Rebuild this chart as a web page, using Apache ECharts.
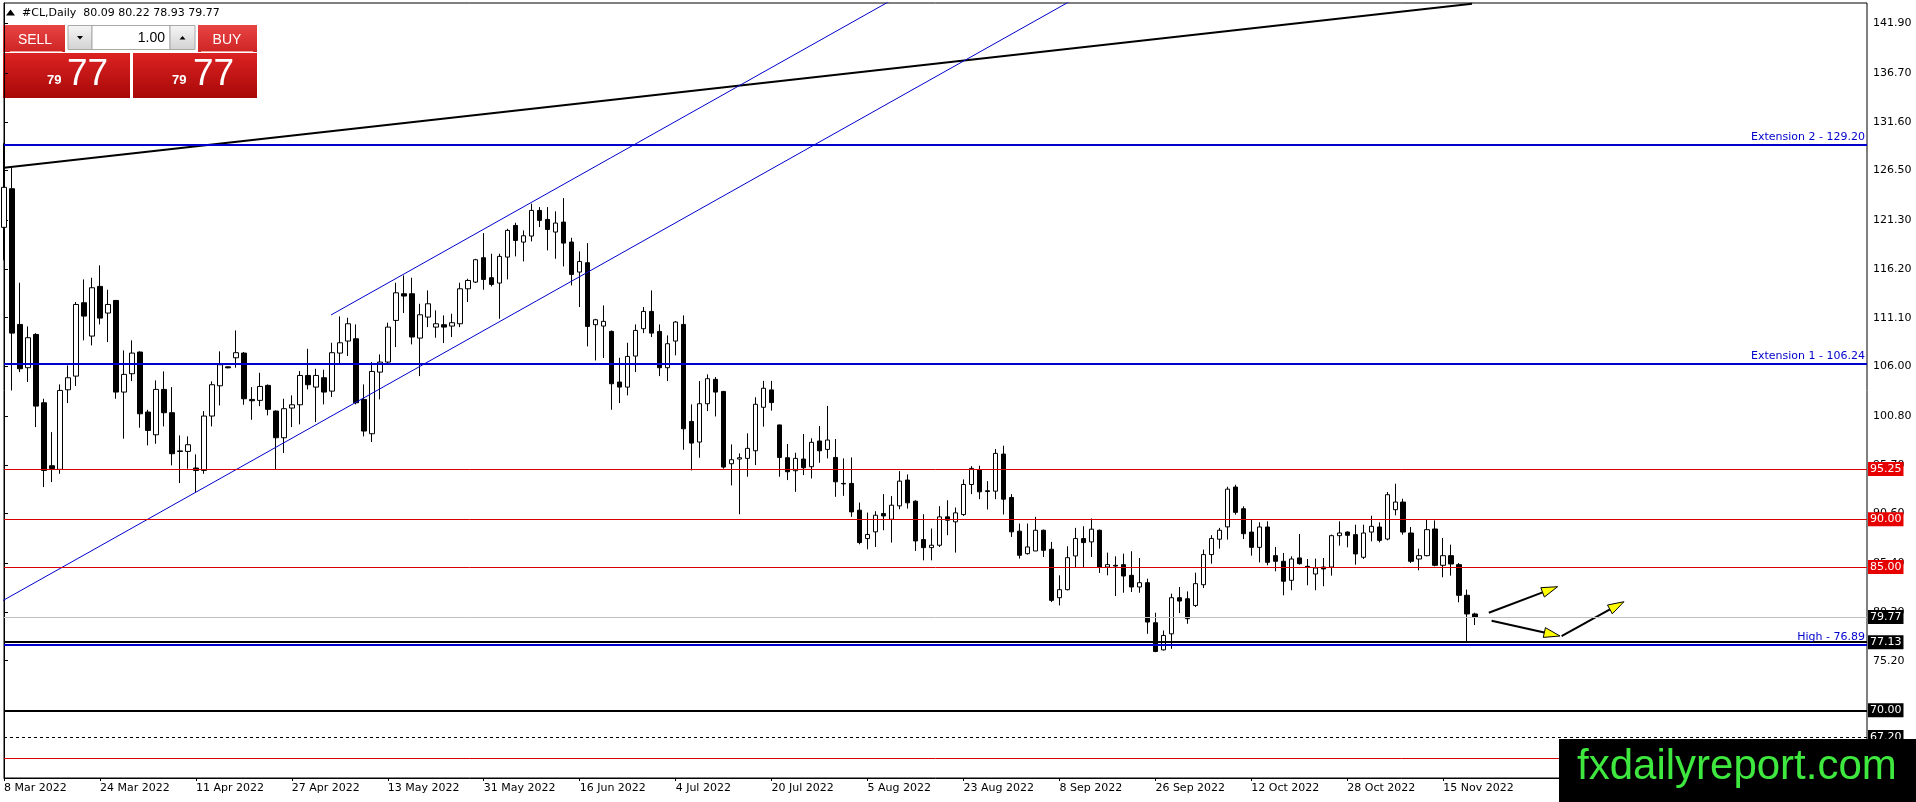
<!DOCTYPE html>
<html>
<head>
<meta charset="utf-8">
<script src="https://cdn.jsdelivr.net/npm/echarts@6.0.0/dist/echarts.min.js"></script>
<style>
html, body { margin: 0; padding: 0; background: #fff; }
#main { width: 1916px; height: 802px; }
</style>
</head>
<body>
<div id="main"></div>
<script>
// daily bars from 8 Mar 2022
var opens = [
  120.55,124.59,110.39,105.86,109.34,102.19,95.6,95.22,103.55,104.98,
  112.66,109.17,114.37,111.58,112.9,103.31,105.23,107.5,101.22,98.84,
  103.59,101.15,97.15,97.1,95.36,95.11,100.8,103.97,105.95,106.9,
  107.39,102.54,102.44,104.01,101.32,98.53,101.64,101.98,105.05,103.83,
  104.81,103.41,107.39,108.65,108.89,102.54,98.95,105.4,106.45,110.81,
  113.6,113.6,108.96,111.16,110.11,110.36,110.22,110.46,114.12,114.82,
  117.37,115.28,114.72,117.44,120.75,119.01,119.64,122.32,121.38,120.06,
  121.1,119.01,115.87,116.85,110.36,110.22,109.66,104.36,103.83,107.08,
  109.94,111.75,109.66,105.86,108.65,110.39,100.24,98.08,102.09,104.64,
  103.38,95.81,96.3,96.37,97.17,101.72,103.54,99.87,96.44,95.08,
  96.3,95.5,98.19,97.31,96.47,93.75,93.75,90.95,87.98,88.68,
  90.6,90.0,91.4,94.1,91.89,87.87,87.03,87.28,90.25,89.73,
  90.49,93.64,95.15,92.98,92.94,96.82,92.28,88.75,86.4,86.68,
  88.85,86.86,81.79,82.63,86.16,87.98,87.63,88.85,85.0,85.18,
  85.25,84.13,82.91,83.36,79.17,76.33,78.01,81.79,81.68,80.98,
  83.15,86.3,87.91,89.2,93.37,91.1,88.66,87.06,89.19,86.19,
  85.6,83.61,85.95,85.07,84.27,85.0,85.0,88.28,88.66,88.39,
  86.02,88.66,89.19,87.93,91.0,91.8,88.56,85.84,86.19,88.98,
  85.18,86.19,85.25,82.04,80.09
];
var highs = [
  129.35,126.79,114.75,110.18,109.48,102.61,99.12,104.11,106.1,112.73,
  115.1,115.28,116.57,114.02,112.95,107.67,108.72,107.57,101.46,104.53,
  105.47,103.83,98.77,98.67,96.79,101.32,104.43,107.57,106.0,109.76,
  107.5,103.83,105.33,104.11,101.39,102.61,102.96,105.51,107.84,105.75,
  105.65,108.47,111.23,111.09,110.39,104.11,106.45,107.25,110.57,114.75,
  115.52,115.28,112.55,113.95,111.86,111.33,111.51,114.75,115.17,117.26,
  119.95,117.79,117.79,120.4,121.03,120.23,123.02,122.67,122.67,122.22,
  123.61,119.46,118.03,118.9,110.98,112.38,109.76,106.9,108.47,110.39,
  112.21,113.95,110.39,109.24,110.74,111.33,102.02,104.46,105.16,104.88,
  103.41,97.83,96.89,98.99,102.77,104.48,104.48,99.9,97.87,96.96,
  98.92,98.47,99.76,101.86,98.4,96.37,96.47,91.75,90.7,90.84,
  92.63,92.42,95.04,94.69,91.99,90.53,89.03,91.37,91.99,91.23,
  94.17,95.56,95.6,93.99,97.35,97.7,92.63,89.55,89.55,90.25,
  88.92,87.63,84.13,87.17,89.1,89.27,90.08,88.92,86.51,86.12,
  86.4,86.65,85.95,83.78,80.22,78.36,82.21,82.91,82.45,84.41,
  86.82,88.33,89.1,93.4,93.61,91.35,89.95,89.68,89.78,87.1,
  86.47,86.12,88.46,85.84,85.88,85.95,88.39,89.78,88.73,89.43,
  89.43,90.37,89.68,92.85,93.72,92.15,89.19,86.92,89.95,89.88,
  88.04,87.34,85.42,82.64,80.22
];
var lows = [
  117.1,103.48,105.4,104.36,99.65,93.37,93.89,94.76,102.16,103.94,
  108.72,108.19,110.39,108.54,102.61,98.43,104.46,99.58,97.73,97.9,
  99.72,95.64,93.79,95.29,92.84,94.76,99.72,101.91,105.8,105.86,
  101.98,100.41,101.84,100.87,95.18,96.93,99.65,99.93,103.59,100.17,
  102.02,102.79,106.27,107.08,102.02,98.67,98.08,102.54,106.2,108.02,
  111.58,108.3,104.98,110.11,109.0,108.44,109.07,110.11,112.73,114.72,
  114.02,114.37,110.98,115.1,117.51,116.98,119.08,120.58,118.14,117.26,
  116.46,114.47,112.21,108.09,106.62,106.87,101.46,102.16,102.96,105.4,
  109.48,109.07,104.98,104.46,107.15,97.27,95.11,96.44,101.32,100.76,
  95.29,93.54,90.53,94.45,95.67,99.69,101.37,94.45,94.1,92.87,
  94.62,94.27,95.91,96.37,92.35,92.45,90.25,87.38,86.86,87.1,
  88.85,87.56,91.05,91.12,86.68,85.7,85.7,87.1,88.33,86.51,
  90.35,92.63,92.1,91.02,92.1,90.5,88.15,85.88,86.3,86.68,
  86.05,81.33,80.98,82.56,85.0,85.0,86.05,84.38,84.13,81.96,
  82.31,82.38,82.31,78.01,76.09,76.26,76.44,80.18,79.06,80.81,
  82.8,85.35,86.93,87.87,90.48,87.93,86.19,85.49,85.18,84.55,
  82.04,82.57,85.25,83.09,82.57,82.99,84.1,87.24,87.06,85.25,
  85.84,87.69,87.58,87.79,90.41,88.39,85.42,84.66,86.12,85.07,
  83.93,84.1,81.31,77.13,78.93
];
var closes = [
  124.74,109.48,105.75,109.0,101.84,95.11,95.3,103.48,104.81,112.48,
  111.26,114.23,111.05,112.48,103.31,105.16,107.39,101.04,99.3,103.59,
  101.15,96.86,97.1,97.8,95.11,100.8,104.08,106.17,105.85,107.43,
  102.61,102.4,103.9,101.5,98.53,101.57,101.98,105.05,104.08,105.05,
  103.31,107.43,108.47,110.46,102.19,99.23,105.47,106.45,110.11,113.7,
  113.36,109.07,111.4,112.55,110.46,110.11,110.57,114.12,114.99,117.16,
  115.1,114.58,117.51,120.23,119.18,119.67,122.32,121.28,120.33,121.0,
  118.9,115.62,116.98,110.18,110.88,110.71,104.18,103.83,107.04,109.76,
  111.75,109.48,105.86,108.37,110.64,99.47,97.97,102.09,104.71,103.31,
  95.46,96.23,96.44,97.42,102.03,103.71,102.21,96.47,94.97,96.37,
  95.39,98.05,97.17,98.29,93.92,93.7,90.77,87.56,88.4,90.42,
  90.35,91.47,93.99,91.72,87.73,87.03,87.28,90.25,89.9,90.67,
  93.64,95.32,92.87,92.9,96.89,92.1,88.68,86.23,87.1,88.85,
  86.75,81.51,82.63,85.98,87.98,87.56,88.96,85.0,85.25,85.1,
  84.06,82.91,83.36,79.24,76.16,77.84,81.79,81.44,79.59,83.26,
  86.3,87.98,88.85,93.15,90.72,88.49,87.06,89.19,85.49,85.6,
  83.51,85.84,85.35,85.0,84.9,84.8,88.28,88.56,88.32,86.37,
  88.56,89.26,87.79,92.57,91.8,88.66,85.6,86.19,88.91,85.18,
  86.19,85.32,82.04,80.09,79.77
];

var tickLabels = ['8 Mar 2022', '24 Mar 2022', '11 Apr 2022', '27 Apr 2022', '13 May 2022',
  '31 May 2022', '16 Jun 2022', '4 Jul 2022', '20 Jul 2022', '5 Aug 2022', '23 Aug 2022',
  '8 Sep 2022', '26 Sep 2022', '12 Oct 2022', '28 Oct 2022', '15 Nov 2022'];
var priceTicks = [141.90, 136.70, 131.60, 126.50, 121.30, 116.20, 111.10, 106.00,
  100.80, 95.70, 90.60, 85.40, 80.30, 75.20];

var extensionNames = ['Extension 2', 'Extension 1'];
var extensionLevels = [129.20, 106.24];
var redLevels = [95.25, 90.00, 85.00, 65.00];
var bidLevel = 79.77;
var lowLevel = 77.13;
var highName = 'High';
var highLevel = 76.89;
var supportLevel = 70.00;
var dashedLevel = 67.20;

// drawn trend lines, [bar index, price]
var trendLine = [[0, 126.8], [183.6, 143.95]];
var channelUpper = [[40.9, 111.38], [115, 146.21]];
var channelLower = [[-0.5, 81.32], [140, 147.35]];
// arrows, [bar from, price from, bar to, price to]
var arrows = [
  [185.7, 80.22, 194.3, 82.94],
  [186.05, 79.38, 194.6, 77.78],
  [194.8, 77.78, 202.6, 81.37]
];

var emptySlots = 49;
var months = ['Jan','Feb','Mar','Apr','May','Jun','Jul','Aug','Sep','Oct','Nov','Dec'];
var dates = [];
var d = new Date(Date.UTC(2022, 2, 8));
while (dates.length < closes.length + emptySlots) {
  var wd = d.getUTCDay();
  if (wd !== 0 && wd !== 6) {
    dates.push(d.getUTCDate() + ' ' + months[d.getUTCMonth()] + ' ' + d.getUTCFullYear());
  }
  d = new Date(d.getTime() + 86400000);
}

var candles = [];
for (var i = 0; i < closes.length; i++) {
  candles.push([opens[i], closes[i], lows[i], highs[i]]);
}
var last = closes.length - 1;

var FONT = 'DejaVu Sans';

function boxLabel(bg) {
  return {
    show: true, position: 'end', distance: 1,
    color: '#fff', backgroundColor: bg, padding: [2, 2, 1, 2],
    fontSize: 11, fontFamily: FONT,
    formatter: function (p) { return p.value.toFixed(2); }
  };
}

var marks = [];
extensionLevels.forEach(function (v, k) {
  marks.push({
    yAxis: v,
    lineStyle: { color: '#0000cd', width: 2, type: 'solid' },
    label: {
      show: true, position: 'insideEndTop', distance: 2,
      color: '#0000cd', fontSize: 11, fontFamily: FONT,
      formatter: extensionNames[k] + ' - ' + v.toFixed(2)
    }
  });
});
redLevels.forEach(function (v) {
  marks.push({ yAxis: v, lineStyle: { color: '#d80000', width: 1, type: 'solid' }, label: boxLabel('#e60000') });
});
marks.push({ yAxis: bidLevel, lineStyle: { color: '#c0c0c0', width: 1, type: 'solid' }, label: boxLabel('#000') });
marks.push({
  yAxis: highLevel,
  lineStyle: { color: '#0000cd', width: 2, type: 'solid' },
  label: {
    show: true, position: 'insideEndTop', distance: 2,
    color: '#0000cd', fontSize: 11, fontFamily: FONT,
    formatter: highName + ' - ' + highLevel.toFixed(2)
  }
});
marks.push({ yAxis: lowLevel, lineStyle: { color: '#000', width: 2, type: 'solid' }, label: boxLabel('#000') });
marks.push({ yAxis: supportLevel, lineStyle: { color: '#000', width: 2, type: 'solid' }, label: boxLabel('#000') });
marks.push({ yAxis: dashedLevel, lineStyle: { color: '#000', width: 1, type: [3, 3] }, label: boxLabel('#000') });

var bidStr = closes[last].toFixed(2);
var bidBig = bidStr.slice(0, 2);
var bidSmall = bidStr.slice(3, 5);

function redGrad(top, bottom) {
  return new echarts.graphic.LinearGradient(0, 0, 0, 1, [
    { offset: 0, color: top }, { offset: 1, color: bottom }
  ]);
}
var grayGrad = new echarts.graphic.LinearGradient(0, 0, 0, 1, [
  { offset: 0, color: '#f6f6f6' }, { offset: 1, color: '#d2d2d2' }
]);

var panel = [
  // header
  { type: 'polygon', shape: { points: [[6, 15.5], [15, 15.5], [10.5, 9.5]] }, style: { fill: '#000' } },
  { type: 'text', x: 22, y: 12.7, style: {
      text: '#CL,Daily  ' + opens[last].toFixed(2) + ' ' + highs[last].toFixed(2) + ' ' +
            lows[last].toFixed(2) + ' ' + closes[last].toFixed(2),
      fill: '#000', font: '11px "DejaVu Sans"', verticalAlign: 'middle' } },
  // sell / buy buttons
  { type: 'rect', shape: { x: 3, y: 25, width: 62, height: 27 }, style: { fill: redGrad('#e84444', '#cf2424') } },
  { type: 'rect', shape: { x: 198, y: 25, width: 59, height: 27 }, style: { fill: redGrad('#e84444', '#cf2424') } },
  { type: 'line', shape: { x1: 10, y1: 51.5, x2: 62, y2: 51.5 }, style: { stroke: '#f3a0a0', lineWidth: 1 } },
  { type: 'line', shape: { x1: 201, y1: 51.5, x2: 253, y2: 51.5 }, style: { stroke: '#f3a0a0', lineWidth: 1 } },
  { type: 'text', x: 35, y: 40, style: { text: 'SELL', fill: '#fff', font: '14px "Liberation Sans"', align: 'center', verticalAlign: 'middle' } },
  { type: 'text', x: 227, y: 40, style: { text: 'BUY', fill: '#fff', font: '14px "Liberation Sans"', align: 'center', verticalAlign: 'middle' } },
  // volume spinner
  { type: 'rect', shape: { x: 68, y: 25.5, width: 24, height: 24 }, style: { fill: grayGrad, stroke: '#a8a8a8', lineWidth: 1 } },
  { type: 'rect', shape: { x: 92, y: 25.5, width: 78, height: 24 }, style: { fill: '#fff', stroke: '#a8a8a8', lineWidth: 1 } },
  { type: 'rect', shape: { x: 170, y: 25.5, width: 25, height: 24 }, style: { fill: grayGrad, stroke: '#a8a8a8', lineWidth: 1 } },
  { type: 'polygon', shape: { points: [[77, 36], [83, 36], [80, 39.5]] }, style: { fill: '#000' } },
  { type: 'polygon', shape: { points: [[179.5, 39.5], [185.5, 39.5], [182.5, 36]] }, style: { fill: '#000' } },
  { type: 'text', x: 165, y: 38, style: { text: '1.00', fill: '#000', font: '14px "Liberation Sans"', align: 'right', verticalAlign: 'middle' } },
  // price boxes
  { type: 'rect', shape: { x: 3, y: 53, width: 127, height: 45 }, style: { fill: redGrad('#dc2222', '#a80808') } },
  { type: 'rect', shape: { x: 133, y: 53, width: 124, height: 45 }, style: { fill: redGrad('#dc2222', '#a80808') } },
  { type: 'text', x: 47, y: 80.5, style: { text: bidBig, fill: '#fff', font: 'bold 13px "Liberation Sans"', verticalAlign: 'middle' } },
  { type: 'text', x: 67, y: 75, style: { text: bidSmall, fill: '#fff', font: '37px "Liberation Sans"', verticalAlign: 'middle' } },
  { type: 'text', x: 172, y: 80.5, style: { text: bidBig, fill: '#fff', font: 'bold 13px "Liberation Sans"', verticalAlign: 'middle' } },
  { type: 'text', x: 193, y: 75, style: { text: bidSmall, fill: '#fff', font: '37px "Liberation Sans"', verticalAlign: 'middle' } },
  // watermark
  { type: 'rect', shape: { x: 1559, y: 739, width: 357, height: 63 }, style: { fill: '#000' }, z: 100 },
  { type: 'text', x: 1577, y: 767.5, z: 101, style: { text: 'fxdailyreport.com', fill: '#3ee83e', font: '42px "Liberation Sans"', verticalAlign: 'middle' } }
];

var chart = echarts.init(document.getElementById('main'));
chart.setOption({
  animation: false,
  backgroundColor: '#fff',
  grid: {
    left: 4, right: 49, top: 3, bottom: 24,
    show: true, borderColor: '#000', borderWidth: 1, backgroundColor: '#fff'
  },
  xAxis: [{
    type: 'category',
    data: dates,
    boundaryGap: false,
    axisLine: { lineStyle: { color: '#000', width: 1 } },
    axisTick: {
      show: true, length: 3, lineStyle: { color: '#000' },
      interval: function (idx, v) { return tickLabels.indexOf(v) >= 0; }
    },
    axisLabel: {
      color: '#000', fontSize: 11, fontFamily: FONT, align: 'left', margin: 5,
      interval: function (idx, v) { return tickLabels.indexOf(v) >= 0; }
    },
    splitLine: { show: false }
  }, {
    type: 'value', show: false, min: 0, max: dates.length - 1
  }],
  yAxis: {
    type: 'value',
    position: 'right',
    min: 62.92, max: 144.03,
    axisLine: { show: true, lineStyle: { color: '#000', width: 1 } },
    axisTick: { show: true, length: 4, lineStyle: { color: '#000' }, customValues: priceTicks },
    axisLabel: {
      color: '#000', fontSize: 11, fontFamily: FONT, margin: 6,
      customValues: priceTicks,
      formatter: function (v) { return v.toFixed(2); }
    },
    splitLine: { show: false }
  },
  series: [{
    type: 'candlestick',
    data: candles,
    barWidth: 5,
    itemStyle: { color: '#fff', color0: '#000', borderColor: '#000', borderColor0: '#000', borderWidth: 1 },
    markLine: { silent: true, symbol: ['none', 'none'], animation: false, data: marks }
  }, {
    type: 'line', xAxisIndex: 1, data: trendLine, symbol: 'none', silent: true,
    lineStyle: { color: '#000', width: 2 }
  }, {
    type: 'line', xAxisIndex: 1, data: channelUpper, symbol: 'none', silent: true,
    lineStyle: { color: '#0000cd', width: 1 }
  }, {
    type: 'line', xAxisIndex: 1, data: channelLower, symbol: 'none', silent: true,
    lineStyle: { color: '#0000cd', width: 1 }
  }, {
    type: 'custom', xAxisIndex: 1, silent: true,
    data: arrows,
    encode: { x: [0, 2], y: [1, 3] },
    renderItem: function (params, api) {
      var p1 = api.coord([api.value(0), api.value(1)]);
      var p2 = api.coord([api.value(2), api.value(3)]);
      var dx = p2[0] - p1[0], dy = p2[1] - p1[1];
      var len = Math.sqrt(dx * dx + dy * dy);
      var ux = dx / len, uy = dy / len;
      var L = 16, W = 5;
      var bx = p2[0] - ux * L, by = p2[1] - uy * L;
      return {
        type: 'group',
        children: [{
          type: 'line',
          shape: { x1: p1[0], y1: p1[1], x2: bx, y2: by },
          style: { stroke: '#000', lineWidth: 2 }
        }, {
          type: 'polygon',
          shape: { points: [[p2[0], p2[1]], [bx - uy * W, by + ux * W], [bx + uy * W, by - ux * W]] },
          style: { fill: '#ffff00', stroke: '#000', lineWidth: 1 }
        }]
      };
    }
  }],
  graphic: { elements: panel }
});
</script>
</body>
</html>
